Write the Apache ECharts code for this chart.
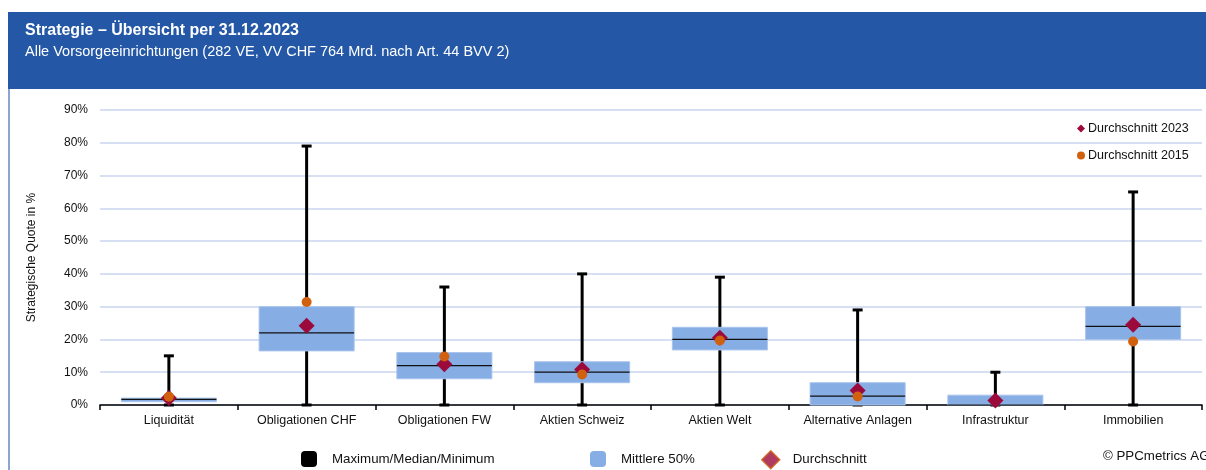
<!DOCTYPE html>
<html>
<head>
<meta charset="utf-8">
<title>Strategie – Übersicht per 31.12.2023</title>
<script src="https://cdn.jsdelivr.net/npm/echarts@6/dist/echarts.min.js"></script>
<style>
  html, body { margin: 0; padding: 0; background: #ffffff; }
  #chart { width: 1206px; height: 470px; }
</style>
</head>
<body>
<div id="chart"></div>
<script>
// Asset classes and strategic allocation statistics (in %)
const categories = ['Liquidität', 'Obligationen CHF', 'Obligationen FW', 'Aktien Schweiz', 'Aktien Welt', 'Alternative Anlagen', 'Infrastruktur', 'Immobilien'];
const minimum  = [0, 0, 0, 0, 0, 0, 0, 0];
const quartil1 = [1.0, 16.5, 8.0, 6.8, 16.8, 0, 0, 20.0];
const median   = [1.7, 22.0, 12.0, 10.0, 20.0, 2.7, 0, 24.0];
const quartil3 = [2.1, 30.0, 16.0, 13.2, 23.7, 6.8, 3.0, 30.0];
const maximum  = [15, 79, 36, 40, 39, 29, 10, 65];
const mean2023 = [2.1, 24.2, 12.4, 10.8, 20.5, 4.4, 1.4, 24.5];
const mean2015 = [2.5, 31.4, 14.8, 9.3, 19.7, 2.6, null, 19.4];
const yTicks   = [0, 10, 20, 30, 40, 50, 60, 70, 80, 90];

const FONT = '"Liberation Sans", Arial, sans-serif';
const BOX_BLUE = '#86ade4';
const DIAMOND_RED = '#9b0a3a';
const CIRCLE_ORANGE = '#d2610f';

const statRows = categories.map((c, i) => [i, minimum[i], quartil1[i], median[i], quartil3[i], maximum[i]]);

const chart = echarts.init(document.getElementById('chart'), null, { renderer: 'canvas' });

// Vertical whisker from minimum to maximum with caps
function renderWhisker(params, api) {
  const x = api.value(0);
  const lo = api.coord([x, api.value(1)]);
  const hi = api.coord([x, api.value(5)]);
  const cap = 5;
  const style = { stroke: '#000', lineWidth: 3 };
  return {
    type: 'group',
    children: [
      { type: 'line', shape: { x1: hi[0], y1: hi[1], x2: lo[0], y2: lo[1] }, style },
      { type: 'line', shape: { x1: hi[0] - cap, y1: hi[1], x2: hi[0] + cap, y2: hi[1] }, style },
      { type: 'line', shape: { x1: lo[0] - cap, y1: lo[1], x2: lo[0] + cap, y2: lo[1] }, style }
    ]
  };
}

// Interquartile box with median line
function renderBox(params, api) {
  const x = api.value(0);
  const q1 = api.coord([x, api.value(2)]);
  const q3 = api.coord([x, api.value(4)]);
  const md = api.coord([x, api.value(3)]);
  const w = api.size([1, 0])[0] * 0.69;
  const left = q1[0] - w / 2;
  return {
    type: 'group',
    children: [
      { type: 'rect', shape: { x: left, y: q3[1], width: w, height: Math.max(q1[1] - q3[1], 1) },
        style: { fill: BOX_BLUE, stroke: '#a9c4ec', lineWidth: 1 } },
      { type: 'line', shape: { x1: left, y1: md[1], x2: left + w, y2: md[1] },
        style: { stroke: '#111', lineWidth: 1.2 } }
    ]
  };
}

const option = {
  animation: false,
  backgroundColor: '#ffffff',
  textStyle: { fontFamily: FONT },
  title: {
    text: 'Strategie – Übersicht per 31.12.2023',
    subtext: 'Alle Vorsorgeeinrichtungen (282 VE, VV CHF 764 Mrd. nach Art. 44 BVV 2)',
    left: 20,
    top: 18,
    itemGap: 5,
    textStyle: { color: '#ffffff', fontSize: 16, fontWeight: 'bold', fontFamily: FONT },
    subtextStyle: { color: '#ffffff', fontSize: 14.5, fontFamily: FONT }
  },
  graphic: [
    { type: 'rect', z: -10, shape: { x: 8, y: 12, width: 1198, height: 77 }, style: { fill: '#2458a6' } },
    { type: 'line', z: -10, shape: { x1: 9, y1: 89, x2: 9, y2: 470 }, style: { stroke: '#8ea5cf', lineWidth: 2 } },
    { type: 'text', left: 1103, top: 450, style: { text: '© PPCmetrics AG', fill: '#111', font: '13.3px ' + FONT } }
  ],
  legend: [
    {
      orient: 'vertical', left: 1072, top: 117, itemGap: 14, itemWidth: 8, itemHeight: 8,
      textStyle: { fontSize: 12.5, color: '#111', fontFamily: FONT, padding: [0, 0, 0, -2] },
      data: [
        { name: 'Durchschnitt 2023', icon: 'diamond' },
        { name: 'Durchschnitt 2015', icon: 'circle' }
      ]
    },
    {
      left: 296, top: 446, itemWidth: 16, itemHeight: 16,
      textStyle: { fontSize: 13.3, color: '#111', fontFamily: FONT, padding: [0, 0, 0, 10] },
      data: [{ name: 'Maximum/Median/Minimum', icon: 'roundRect', itemStyle: { color: '#000' } }]
    },
    {
      left: 585, top: 446, itemWidth: 16, itemHeight: 16,
      textStyle: { fontSize: 13.3, color: '#111', fontFamily: FONT, padding: [0, 0, 0, 10] },
      data: [{ name: 'Mittlere 50%', icon: 'roundRect', itemStyle: { color: BOX_BLUE } }]
    },
    {
      left: 756, top: 445, itemWidth: 18, itemHeight: 18,
      textStyle: { fontSize: 13.3, color: '#111', fontFamily: FONT, padding: [0, 0, 0, 8] },
      data: [{ name: 'Durchschnitt', icon: 'diamond', itemStyle: { color: DIAMOND_RED, borderColor: CIRCLE_ORANGE, borderWidth: 1.5 } }]
    }
  ],
  grid: { left: 100, right: 4, top: 110, bottom: 65 },
  xAxis: {
    type: 'category',
    data: categories,
    boundaryGap: true,
    axisLine: { lineStyle: { color: '#000', width: 1.5 } },
    axisTick: { show: true, interval: 0, length: 5, lineStyle: { color: '#000', width: 1.5 } },
    axisLabel: { interval: 0, margin: 9, fontSize: 12.5, color: '#111', fontFamily: FONT },
    splitLine: { show: false }
  },
  yAxis: {
    type: 'value',
    min: yTicks[0],
    max: yTicks[yTicks.length - 1],
    interval: 10,
    name: 'Strategische Quote in %',
    nameLocation: 'middle',
    nameGap: 62,
    nameTextStyle: { fontSize: 12, color: '#111', fontFamily: FONT },
    axisLine: { show: false },
    axisTick: { show: false },
    axisLabel: { formatter: '{value}%', margin: 12, fontSize: 12, color: '#111', fontFamily: FONT },
    splitLine: { lineStyle: { color: '#c9d6ee', width: 1.5 } }
  },
  series: [
    {
      name: 'Maximum/Median/Minimum',
      type: 'custom',
      z: 2,
      itemStyle: { color: '#000' },
      renderItem: renderWhisker,
      encode: { x: 0, y: [1, 5] },
      data: statRows
    },
    {
      name: 'Mittlere 50%',
      type: 'custom',
      z: 3,
      itemStyle: { color: BOX_BLUE },
      renderItem: renderBox,
      encode: { x: 0, y: [2, 3, 4] },
      data: statRows
    },
    {
      name: 'Durchschnitt',
      type: 'scatter',
      symbol: 'diamond',
      itemStyle: { color: DIAMOND_RED, borderColor: CIRCLE_ORANGE },
      data: []
    },
    {
      name: 'Durchschnitt 2023',
      type: 'scatter',
      z: 4,
      symbol: 'diamond',
      symbolSize: 16,
      itemStyle: { color: DIAMOND_RED, opacity: 1 },
      data: mean2023
    },
    {
      name: 'Durchschnitt 2015',
      type: 'scatter',
      z: 5,
      symbol: 'circle',
      symbolSize: 10,
      itemStyle: { color: CIRCLE_ORANGE, opacity: 1 },
      data: mean2015
    }
  ]
};

chart.setOption(option);
</script>
</body>
</html>
